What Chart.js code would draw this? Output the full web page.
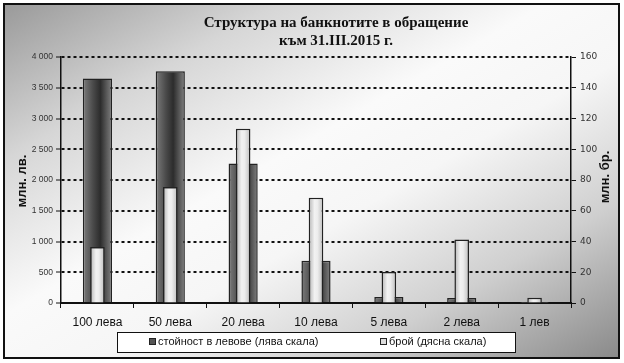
<!DOCTYPE html>
<html>
<head>
<meta charset="utf-8">
<script src="https://cdn.jsdelivr.net/npm/chart.js@4.4.1/dist/chart.umd.min.js"></script>
<style>
  html, body { margin: 0; padding: 0; background: #fff; }
  #wrap { position: relative; width: 624px; height: 363px; overflow: hidden; }
  #frame {
    position: absolute; left: 3px; top: 3px; width: 613px; height: 352px;
    border: 2px solid #111;
    background: linear-gradient(to bottom right, #9a9a9a 0%, #d6d6d6 22%, #fafafa 44%, #f6f6f6 58%, #cfcfcf 78%, #8a8a8a 100%);
  }
  canvas { position: absolute; left: 0; top: 0; }
</style>
</head>
<body>
<div id="wrap">
  <div id="frame"></div>
  <canvas id="grafica" width="624" height="363"></canvas>
</div>
<script>
// Данни
const kategorii = ['100 лева', '50 лева', '20 лева', '10 лева', '5 лева', '2 лева', '1 лев'];
const stoinost = [3650, 3770, 2270, 685, 97, 83, 3];        // млн. лв. (лява скала)
const broi = [36.5, 75.4, 113.4, 68.5, 20.2, 41.3, 3.4];    // млн. бр. (дясна скала)
const lqvaSkalaTicks = [0, 500, 1000, 1500, 2000, 2500, 3000, 3500, 4000];
const dqsnaSkalaTicks = [0, 20, 40, 60, 80, 100, 120, 140, 160];

const tumnoStops = [[0, '#7c7c7c'], [0.35, '#4a4a4a'], [0.6, '#2c2c2c'], [1, '#808080']];
const svetloStops = [[0, '#b4b4b4'], [0.4, '#f2f2f2'], [0.6, '#ededed'], [1, '#bdbdbd']];

// Градиент по ширината на всяка колона
function gradientKolona(stops, pct) {
    return function (ctx) {
        const chart = ctx.chart;
        const area = chart.chartArea;
        if (!area || ctx.type !== 'data') return stops[1][1];
        const cx = chart.scales.x.getPixelForValue(ctx.dataIndex);
        const w = area.width / kategorii.length * pct;
        const g = chart.ctx.createLinearGradient(cx - w / 2, 0, cx + w / 2, 0);
        stops.forEach(s => g.addColorStop(s[0], s[1]));
        return g;
    };
}

function formatHiljadi(v) {
    return String(v).replace(/\B(?=(\d{3})+(?!\d))/g, ' ');
}

// Заглавие, надписи на осите и легенда
const nadpisi = {
    id: 'nadpisi',
    afterDraw(chart) {
        const c = chart.ctx;
        c.save();
        c.fillStyle = '#111';
        c.textAlign = 'center';
        c.textBaseline = 'middle';
        c.font = 'bold 15px "Liberation Serif"';
        c.fillText('Структура на банкнотите в обращение', 336, 23);
        c.fillText('към 31.III.2015 г.', 336, 41);

        c.font = 'bold 13px "Liberation Sans"';
        c.save();
        c.translate(22, 181);
        c.rotate(-Math.PI / 2);
        c.fillText('млн. лв.', 0, 0);
        c.restore();
        c.save();
        c.translate(605, 177);
        c.rotate(-Math.PI / 2);
        c.fillText('млн. бр.', 0, 0);
        c.restore();

        // легенда
        c.fillStyle = '#fff';
        c.fillRect(117, 332, 398, 20);
        c.strokeStyle = '#111';
        c.lineWidth = 1;
        c.strokeRect(117.5, 332.5, 398, 20);
        const elementi = [
            { x: 149, tekst: chart.data.datasets[0].label, cvqt: '#555' },
            { x: 380, tekst: chart.data.datasets[1].label, cvqt: '#dcdcdc' }
        ];
        c.font = '11px "Liberation Sans"';
        c.textAlign = 'left';
        elementi.forEach(e => {
            c.fillStyle = e.cvqt;
            c.fillRect(e.x, 338, 7, 7);
            c.strokeStyle = '#222';
            c.strokeRect(e.x + 0.5, 338.5, 6, 6);
            c.fillStyle = '#111';
            c.fillText(e.tekst, e.x + 9, 342);
        });
        c.restore();
    }
};

const ctx = document.getElementById('grafica').getContext('2d');
new Chart(ctx, {
    type: 'bar',
    data: {
        labels: kategorii,
        datasets: [
            {
                label: 'стойност в левове (лява скала)',
                data: stoinost,
                yAxisID: 'y',
                grouped: false,
                order: 2,
                categoryPercentage: 1,
                barPercentage: 0.4,
                backgroundColor: gradientKolona(tumnoStops, 0.4),
                borderColor: '#222',
                borderWidth: 1.5
            },
            {
                label: 'брой (дясна скала)',
                data: broi,
                yAxisID: 'y1',
                grouped: false,
                order: 1,
                categoryPercentage: 1,
                barPercentage: 0.2,
                backgroundColor: gradientKolona(svetloStops, 0.2),
                borderColor: '#222',
                borderWidth: 1.5
            }
        ]
    },
    options: {
        responsive: false,
        animation: false,
        layout: { padding: { top: 57, left: 0, right: 0, bottom: 0 } },
        plugins: {
            legend: { display: false },
            tooltip: { enabled: false }
        },
        scales: {
            x: {
                offset: true,
                grid: {
                    offset: true,
                    drawOnChartArea: false,
                    drawTicks: true,
                    tickLength: 5,
                    tickColor: '#111',
                    tickWidth: 1
                },
                border: { display: true, color: '#111', width: 2 },
                ticks: {
                    color: '#111',
                    padding: 7,
                    font: { family: 'Liberation Sans', size: 12 }
                },
                afterFit(scale) { scale.height = 60; }
            },
            y: {
                position: 'left',
                min: 0,
                max: 4000,
                afterBuildTicks(scale) { scale.ticks = lqvaSkalaTicks.map(v => ({ value: v })); },
                grid: {
                    color: '#111',
                    lineWidth: 2,
                    tickLength: 5,
                    tickColor: '#111',
                    tickWidth: 1,
                    tickBorderDash: []
                },
                border: { display: true, color: '#111', width: 1.5, dash: [3, 3] },
                ticks: {
                    color: '#333',
                    padding: 3,
                    font: { family: 'Liberation Sans', size: 8.5 },
                    callback: v => formatHiljadi(v)
                },
                afterFit(scale) { scale.width = 61; }
            },
            y1: {
                position: 'right',
                min: 0,
                max: 160,
                afterBuildTicks(scale) { scale.ticks = dqsnaSkalaTicks.map(v => ({ value: v })); },
                grid: {
                    drawOnChartArea: false,
                    tickLength: 5,
                    tickColor: '#111',
                    tickWidth: 1
                },
                border: { display: true, color: '#111', width: 1.5 },
                ticks: {
                    color: '#333',
                    padding: 4,
                    font: { family: 'DejaVu Sans', size: 9 }
                },
                afterFit(scale) { scale.width = 53; }
            }
        }
    },
    plugins: [nadpisi]
});
</script>
</body>
</html>
